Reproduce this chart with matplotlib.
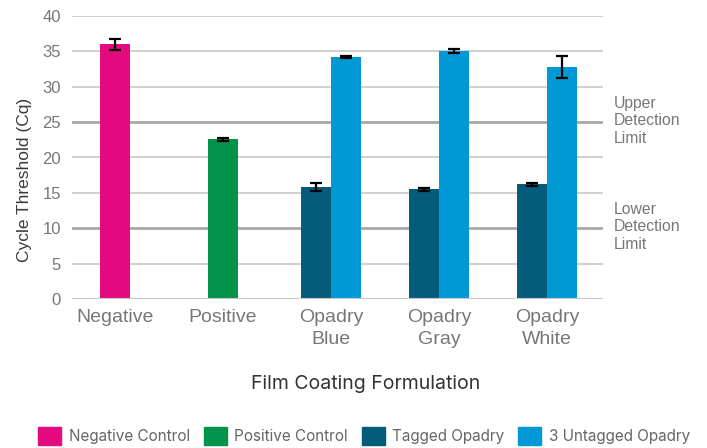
import numpy as np
import matplotlib.pyplot as plt

# data
categories = ["Negative", "Positive", "Opadry\nBlue", "Opadry\nGray", "Opadry\nWhite"]
negative_cq = [36.0]
negative_err = [0.8]
positive_cq = [22.6]
positive_err = [0.2]
tagged_cq = [15.8, 15.5, 16.2]
tagged_err = [0.6, 0.25, 0.2]
untagged_cq = [34.2, 35.05, 32.8]
untagged_err = [0.1, 0.3, 1.6]
legend_labels = ["Negative Control", "Positive Control", "Tagged Opadry", "3 Untagged Opadry"]
colors = ["#E20A7E", "#03924A", "#045B7A", "#0099D6"]

x = np.arange(len(categories))
w = 0.278
err_kw = dict(ecolor="black", elinewidth=1.6, capsize=4, capthick=1.6)

fig = plt.figure(figsize=(7.07, 4.48), dpi=100)
ax = fig.add_axes([72 / 707, 1 - 299 / 448, 531 / 707, 283 / 448])

ax.bar(x[:1], negative_cq, w, yerr=negative_err, color=colors[0], error_kw=err_kw, zorder=3)
ax.bar(x[1:2], positive_cq, w, yerr=positive_err, color=colors[1], error_kw=err_kw, zorder=3)
ax.bar(x[2:] - w / 2, tagged_cq, w, yerr=tagged_err, color=colors[2], error_kw=err_kw, zorder=3)
ax.bar(x[2:] + w / 2, untagged_cq, w, yerr=untagged_err, color=colors[3], error_kw=err_kw, zorder=3)

ax.set_ylim(0, 40)
ax.set_xlim(-0.398, 4.519)
ax.set_yticks(np.arange(0, 41, 5))
for v in range(5, 41, 5):
    if v in (10, 25):
        ax.axhline(v, color="#a8a8a8", lw=2.0, zorder=1)
    else:
        ax.axhline(v, color="#c8c8c8", lw=1.2, zorder=1)
ax.axhline(0, color="#c8c8c8", lw=1.5, zorder=4)

for s in ax.spines.values():
    s.set_visible(False)
ax.tick_params(length=0)
ax.tick_params(axis="y", labelsize=12, labelcolor="#777777", pad=8)
ax.tick_params(axis="x", labelsize=14, labelcolor="#777777", pad=7)
ax.set_xticks(x)
ax.set_xticklabels(categories, linespacing=1.4)
for lab in ax.get_xticklabels() + ax.get_yticklabels():
    lab.set_family("Liberation Sans")

ax.set_ylabel("Cycle Threshold (Cq)", fontsize=12.5, color="#3a3a3a",
              family="Liberation Sans")
ax.yaxis.set_label_coords(-0.075, 0.42)

tr = ax.get_yaxis_transform()
ax.text(1.02, 25.2, "Upper\nDetection\nLimit", transform=tr, va="center", ha="left",
        fontsize=11.3, color="#777777", family="Liberation Sans", linespacing=1.22)
ax.text(1.02, 10.2, "Lower\nDetection\nLimit", transform=tr, va="center", ha="left",
        fontsize=11.3, color="#777777", family="Liberation Sans", linespacing=1.22)

fig.text(366 / 707, 1 - 384 / 448, "Film Coating Formulation", ha="center", va="center",
         fontsize=14, color="#333333", family="Inter")

handles = [plt.Rectangle((0, 0), 1, 1, color=c) for c in colors]
fig.legend(handles, legend_labels, loc="center", bbox_to_anchor=(0.515, 1 - 436 / 448),
           ncol=4, frameon=False, handlelength=1.5, handleheight=1.5, handletextpad=0.5,
           columnspacing=0.9, prop={"family": "Inter", "size": 11},
           labelcolor="#666666")

fig.savefig("out.png", dpi=100)
